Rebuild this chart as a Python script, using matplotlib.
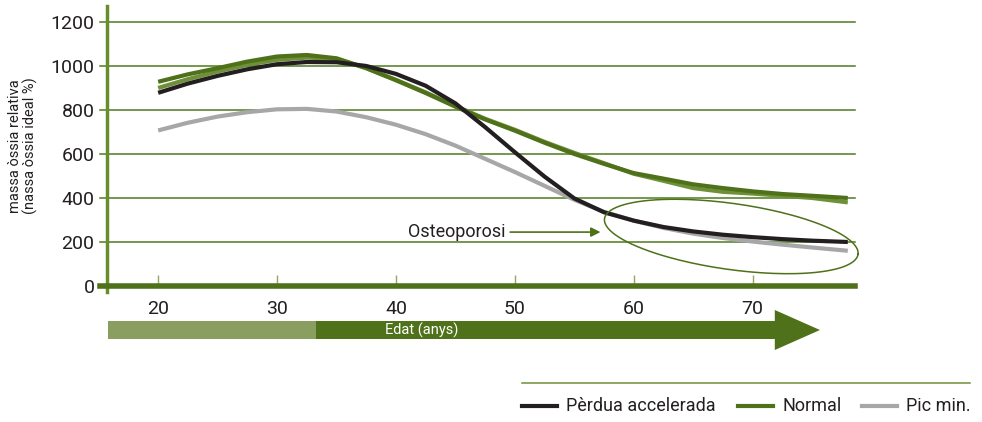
import numpy as np
import matplotlib
matplotlib.use('Agg')
import matplotlib.pyplot as plt
from matplotlib.patches import Polygon
from matplotlib.lines import Line2D

plt.rcParams['font.family'] = ['Roboto', 'DejaVu Sans']

# Data
ages = [20, 22.5, 25, 27.5, 30, 32.5, 35, 37.5, 40, 42.5, 45, 47.5,
        50, 52.5, 55, 57.5, 60, 62.5, 65, 67.5, 70, 72.5, 75, 78]
perdua = [878, 920, 955, 985, 1008, 1018, 1017, 1000, 964, 910, 830, 722,
          608, 497, 398, 335, 297, 268, 248, 233, 222, 213, 206, 200]
pic_min = [707, 742, 770, 790, 803, 805, 793, 767, 733, 690, 638, 578,
           518, 455, 392, 337, 297, 264, 238, 218, 202, 188, 175, 160]
normal = [928, 962, 990, 1020, 1043, 1050, 1035, 990, 935, 877, 815, 757,
          706, 651, 600, 555, 513, 488, 462, 445, 430, 418, 410, 400]
normal2 = [900, 940, 975, 1005, 1028, 1038, 1032, 990, 937, 880, 818, 760,
           710, 655, 605, 558, 510, 478, 445, 428, 420, 410, 400, 380]
yticks = [0, 200, 400, 600, 800, 1000, 1200]
xticks = [20, 30, 40, 50, 60, 70]

dark_green = '#4e7119'
light_green = '#6f9038'
grid_green = '#4f7a1c'
gray = '#a7a7a9'
black = '#231f20'
text_col = '#231f20'

fig = plt.figure(figsize=(9.82, 4.22), dpi=100)
ax = fig.add_axes([0.109, 0.3223, 0.7616, 0.6637])
ax.set_xlim(15.7, 78.6)
ax.set_ylim(0, 1273)

for sp in ['top', 'right', 'bottom']:
    ax.spines[sp].set_visible(False)
ax.spines['left'].set_color('#6a8d2c')
ax.spines['left'].set_linewidth(2.5)
ax.plot([15.7, 15.7], [0, -27], color='#6a8d2c', lw=2.5, clip_on=False)

for y in yticks[1:]:
    ax.axhline(y, xmin=-0.009, xmax=1, color=grid_green, lw=1.1, clip_on=False, zorder=1)
ax.axhline(0, xmin=-0.009, xmax=1, color=dark_green, lw=4, clip_on=False, zorder=3)

ax.set_yticks(yticks)
ax.tick_params(axis='y', length=0, pad=9, labelsize=14, labelcolor=text_col)
ax.set_xticks(xticks)
ax.tick_params(axis='x', direction='in', length=8, width=1, color='#8fa866',
               pad=10, labelsize=14, labelcolor=text_col)

ax.set_ylabel('massa òssia relativa\n(nassa òssia ideal %)', fontsize=10.5,
              color=text_col, linespacing=1.1)
ax.yaxis.set_label_coords(-0.092, 0.5)

line_kw = dict(lw=3, solid_capstyle='butt', solid_joinstyle='round')
ax.plot(ages, pic_min, color=gray, zorder=4, **line_kw)
ax.plot(ages, normal2, color=light_green, zorder=4, **line_kw)
ax.plot(ages, normal, color=dark_green, zorder=5, **line_kw)
ax.plot(ages, perdua, color=black, zorder=6, **line_kw)

# Osteoporosi annotation
ax.text(41.0, 245, 'Osteoporosi', fontsize=13, color=text_col, va='center', ha='left')
ax.annotate('', xy=(57.2, 245), xytext=(49.6, 245),
            arrowprops=dict(arrowstyle='-|>', color=dark_green, lw=1.2,
                            mutation_scale=14, shrinkA=0, shrinkB=0))

# ellipse drawn in display space, then mapped to data
cx, cy = ax.transData.transform((68.2, 225))
t = np.linspace(0, 2 * np.pi, 200)
a, b, phi = 128, 33, np.deg2rad(-8)
px = cx + a * np.cos(t) * np.cos(phi) - b * np.sin(t) * np.sin(phi)
py = cy + a * np.cos(t) * np.sin(phi) + b * np.sin(t) * np.cos(phi)
pts = ax.transData.inverted().transform(np.column_stack([px, py]))
ax.plot(pts[:, 0], pts[:, 1], color=dark_green, lw=1.1, clip_on=False, zorder=7)

# Age arrow bar below the axis
fig.patches.append(Polygon([[0.110, 0.2393], [0.3218, 0.2393], [0.3218, 0.1967], [0.110, 0.1967]],
                           closed=True, transform=fig.transFigure, facecolor='#8a9e5f', edgecolor='none'))
fig.patches.append(Polygon([[0.3218, 0.2393], [0.789, 0.2393], [0.789, 0.2654], [0.835, 0.218],
                            [0.789, 0.1706], [0.789, 0.1967], [0.3218, 0.1967]],
                           closed=True, transform=fig.transFigure, facecolor=dark_green, edgecolor='none'))
fig.text(0.392, 0.218, 'Edat (anys)', color='white', fontsize=10.5, va='center', ha='left')

# Legend
fig.add_artist(Line2D([0.5316, 0.9878], [0.0924, 0.0924], color=light_green, lw=1.1))
legend_items = [('Pèrdua accelerada', black, 0.5316), ('Normal', dark_green, 0.7515),
                ('Pic min.', gray, 0.8778)]
for label, col, x0 in legend_items:
    fig.add_artist(Line2D([x0, x0 + 0.036], [0.038, 0.038], color=col, lw=3))
    fig.text(x0 + 0.045, 0.038, label, fontsize=13, color=text_col, va='center', ha='left')

fig.savefig('out.png', dpi=100)
